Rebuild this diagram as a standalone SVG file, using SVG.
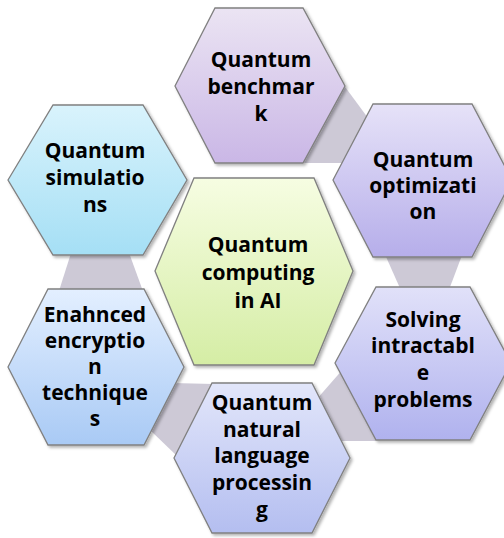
<svg xmlns="http://www.w3.org/2000/svg" width="504" height="538" viewBox="0 0 504 538">
<defs>
<linearGradient id="gBench" x1="0" y1="0" x2="0" y2="1"><stop offset="0" stop-color="#ebe4f3"/><stop offset="1" stop-color="#cab7e6"/></linearGradient>
<linearGradient id="gOpt" x1="0" y1="0" x2="0" y2="1"><stop offset="0" stop-color="#e6e2f8"/><stop offset="1" stop-color="#b6aeea"/></linearGradient>
<linearGradient id="gSolve" x1="0" y1="0" x2="0" y2="1"><stop offset="0" stop-color="#e1e1f9"/><stop offset="1" stop-color="#b0b2ee"/></linearGradient>
<linearGradient id="gNlp" x1="0" y1="0" x2="0" y2="1"><stop offset="0" stop-color="#e2e6fa"/><stop offset="1" stop-color="#b4bef0"/></linearGradient>
<linearGradient id="gEnc" x1="0" y1="0" x2="0" y2="1"><stop offset="0" stop-color="#e3efff"/><stop offset="1" stop-color="#a9caf5"/></linearGradient>
<linearGradient id="gSim" x1="0" y1="0" x2="0" y2="1"><stop offset="0" stop-color="#d9f3fc"/><stop offset="1" stop-color="#a5dff5"/></linearGradient>
<linearGradient id="gCenter" x1="0" y1="0" x2="0" y2="1"><stop offset="0" stop-color="#f6fde2"/><stop offset="1" stop-color="#d5eda5"/></linearGradient>
<filter id="sh" x="-10%" y="-10%" width="125%" height="125%"><feDropShadow dx="2" dy="2" stdDeviation="1.5" flood-color="#000" flood-opacity="0.3"/></filter>
</defs>
<style>
.hex{stroke:#808080;stroke-width:1.3;filter:url(#sh)}
.conn{fill:#cdc9d6;stroke:none}
text{font-family:"Open Sans","Liberation Sans",sans-serif;font-weight:700;font-size:21px;fill:#000;text-anchor:middle}
</style>
<g id="connectors">
<polygon class="conn" points="340,80 368,118 342,163 300,163"/>
<polygon class="conn" points="383,250 464,250 447,295 403,295"/>
<polygon class="conn" points="316,400 344,368 376,441 339,441"/>
<polygon class="conn" points="172,383 214,384 177,456 150,430"/>
<polygon class="conn" points="72,250 128,250 144,294 58,294"/>
</g>
<g id="benchmark">
<polygon class="hex" fill="url(#gBench)" points="175,86 215,8 303,8 345,86 303,163 215,163"/>
<text x="261" y="67">Quantum</text><text x="261" y="94">benchmar</text><text x="261" y="121">k</text>
</g>
<g id="optimization">
<polygon class="hex" fill="url(#gOpt)" points="333,180 373,104 472,104 512,180 472,257 373,257"/>
<text x="423" y="167">Quantum</text><text x="423" y="193">optimizati</text><text x="423" y="219">on</text>
</g>
<g id="solving">
<polygon class="hex" fill="url(#gSolve)" points="335,363 376,287 470,287 511,363 470,440 376,440"/>
<text x="423" y="327">Solving</text><text x="423" y="353">intractabl</text><text x="423" y="380">e</text><text x="423" y="407">problems</text>
</g>
<g id="nlp">
<polygon class="hex" fill="url(#gNlp)" points="174,458 212,383 312,383 350,458 312,533 212,533"/>
<text x="262" y="410">Quantum</text><text x="262" y="437">natural</text><text x="262" y="463">language</text><text x="262" y="490">processin</text><text x="262" y="517">g</text>
</g>
<g id="encryption">
<polygon class="hex" fill="url(#gEnc)" points="8,367 48,289 144,289 184,367 144,445 48,445"/>
<text x="95" y="322">Enahnced</text><text x="95" y="348">encryptio</text><text x="95" y="374">n</text><text x="95" y="400">technique</text><text x="95" y="426">s</text>
</g>
<g id="simulations">
<polygon class="hex" fill="url(#gSim)" points="8,180 53,105 143,105 187,180 143,255 53,255"/>
<text x="95" y="158">Quantum</text><text x="95" y="185">simulatio</text><text x="95" y="212">ns</text>
</g>
<g id="center">
<polygon class="hex" fill="url(#gCenter)" points="155,271 194,178 314,178 353,271 314,365 194,365"/>
<text x="258" y="252">Quantum</text><text x="258" y="280">computing</text><text x="258" y="308">in AI</text>
</g>
</svg>
